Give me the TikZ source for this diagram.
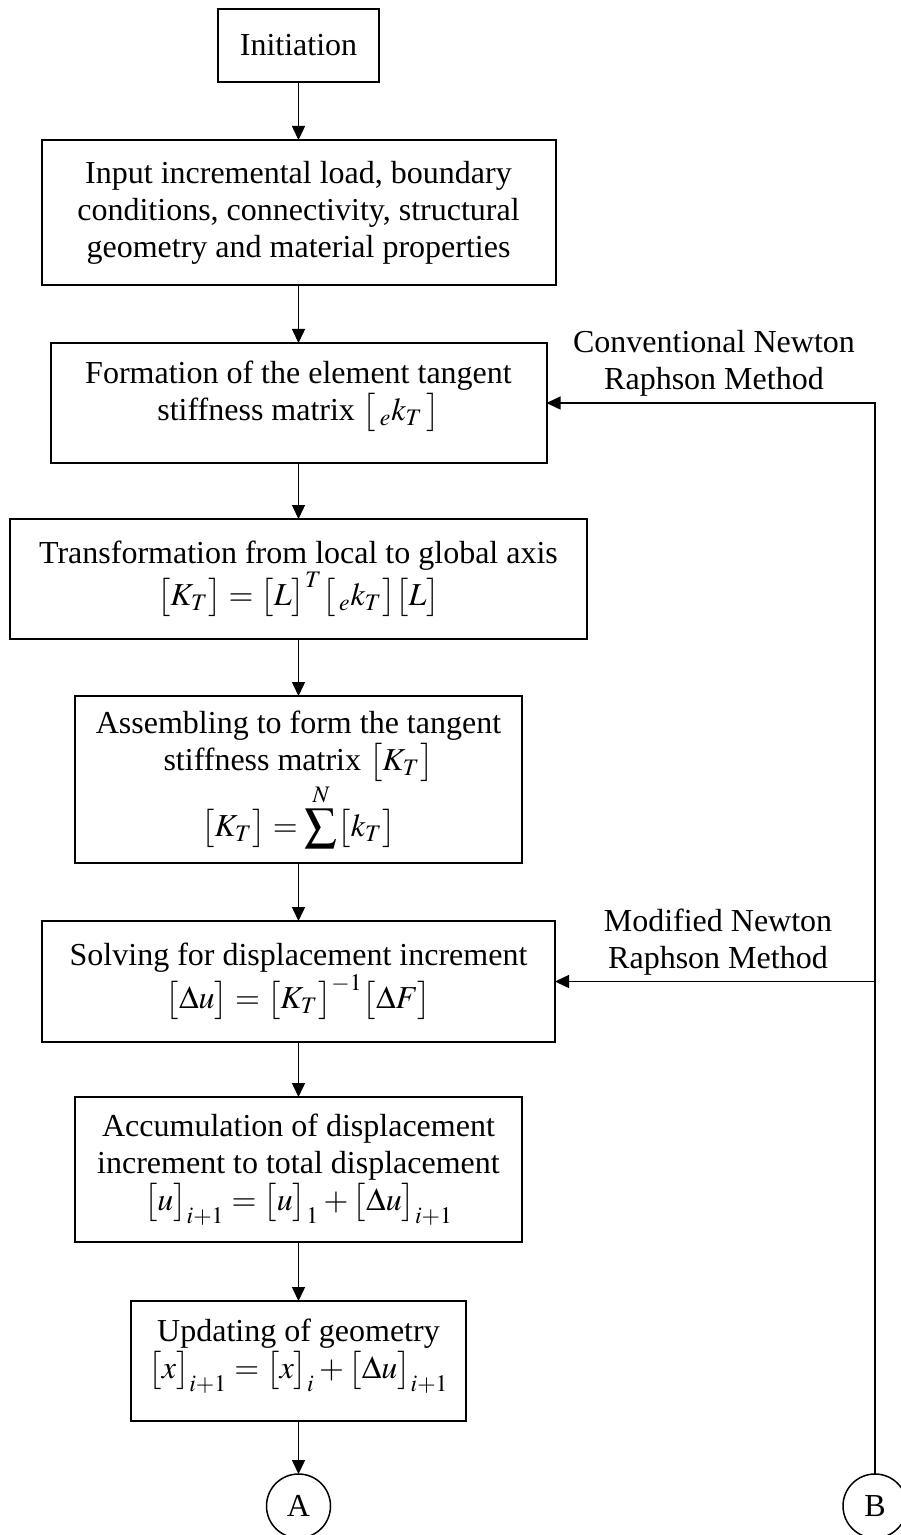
\documentclass[tikz,border=0pt]{standalone}
\usepackage{mathptmx}
\usepackage[no-math]{fontspec}
\setmainfont{Liberation Serif}
\usetikzlibrary{
  arrows.meta,
  positioning
}
\newcommand{\brk}[1]{\bigl[#1\bigr]}
\newcommand{\flowFont}{\fontsize{16}{18.5}\selectfont}
\newcommand{\lowPad}{\rule[-12pt]{0pt}{12pt}}
\tikzset{
  procBox/.style={
    rectangle,
    draw,
    line width=1pt,
    outer sep=0pt,
    align=center,
    inner sep=4pt,
    font=\flowFont
  }
}
\tikzset{
  connCircle/.style={
    circle,
    draw,
    line width=0.75pt,
    outer sep=0pt,
    minimum size=32pt,
    inner sep=0pt,
    font=\flowFont
  }
}
\tikzset{
  methodNote/.style={
    align=center,
    inner sep=0pt,
    font=\flowFont
  }
}
\tikzset{
  flow/.style={
    ->,
    line width=0.75pt
  }
}

\begin{document}
\begin{tikzpicture}[x=0.5pt, y=-0.5pt, >={Triangle[length=7pt,width=6.5pt]}, node distance=29pt]
    \useasboundingbox (0,0) rectangle (900,1535);
    % main column
    \node[procBox, minimum width=80.5pt, minimum height=36.5pt] (init) at (298.5,45.5) {Initiation};
    \node[procBox, minimum width=257pt, minimum height=72.5pt, below=of init] (input)
      {Input incremental load, boundary\\conditions, connectivity, structural\\geometry and material properties};
    \node[procBox, minimum width=248pt, minimum height=60pt, below=of input] (form)
      {Formation of the element tangent\\stiffness matrix $\brk{\,{}_e k_T\,}$\lowPad};
    \node[procBox, minimum width=288.5pt, minimum height=60pt, below=28pt of form] (trans)
      {Transformation from local to global axis\\$\brk{K_T}=\brk{L}^T\brk{\,{}_e k_T}\brk{L}$};
    \node[procBox, minimum width=223.5pt, minimum height=83.5pt, below=28.5pt of trans] (assem)
      {Assembling to form the tangent\\stiffness matrix $\brk{K_T}$\\$\displaystyle\brk{K_T}=\sum^{N}\brk{k_T}$};
    \node[procBox, minimum width=256.5pt, minimum height=60.5pt, below=of assem] (solve)
      {Solving for displacement increment\\$\brk{\Delta u}=\brk{K_T}^{-1}\brk{\Delta F}$};
    \node[procBox, minimum width=223.5pt, minimum height=72.5pt, below=27.5pt of solve] (accum)
      {Accumulation of displacement\\increment to total displacement\\$\brk{u}_{i+1}=\brk{u}_1+\brk{\Delta u}_{i+1}$};
    \node[procBox, minimum width=167.5pt, minimum height=60pt, below=29.5pt of accum] (upd)
      {Updating of geometry\\$\brk{x}_{i+1}=\brk{x}_i+\brk{\Delta u}_{i+1}$\lowPad};
    \node[connCircle, below=26.5pt of upd] (A) {A};
    % return loop
    \coordinate (rail) at (875,0);
    \node[connCircle] (B) at (A -| rail) {B};
    \coordinate (jn) at (B |- solve.east);
    \node[methodNote] (conv) at (714,363) {Conventional Newton\\Raphson Method};
    \node[methodNote] (modf) at (718,942) {Modified Newton\\Raphson Method};

    \foreach \a/\b in {init/input, input/form, form/trans, trans/assem, assem/solve, solve/accum, accum/upd, upd/A}
      \draw[flow] (\a) -- (\b);
    \draw[flow] (B) |- (form);
    \draw[flow] (jn) -- (solve);
\end{tikzpicture}
\end{document}
